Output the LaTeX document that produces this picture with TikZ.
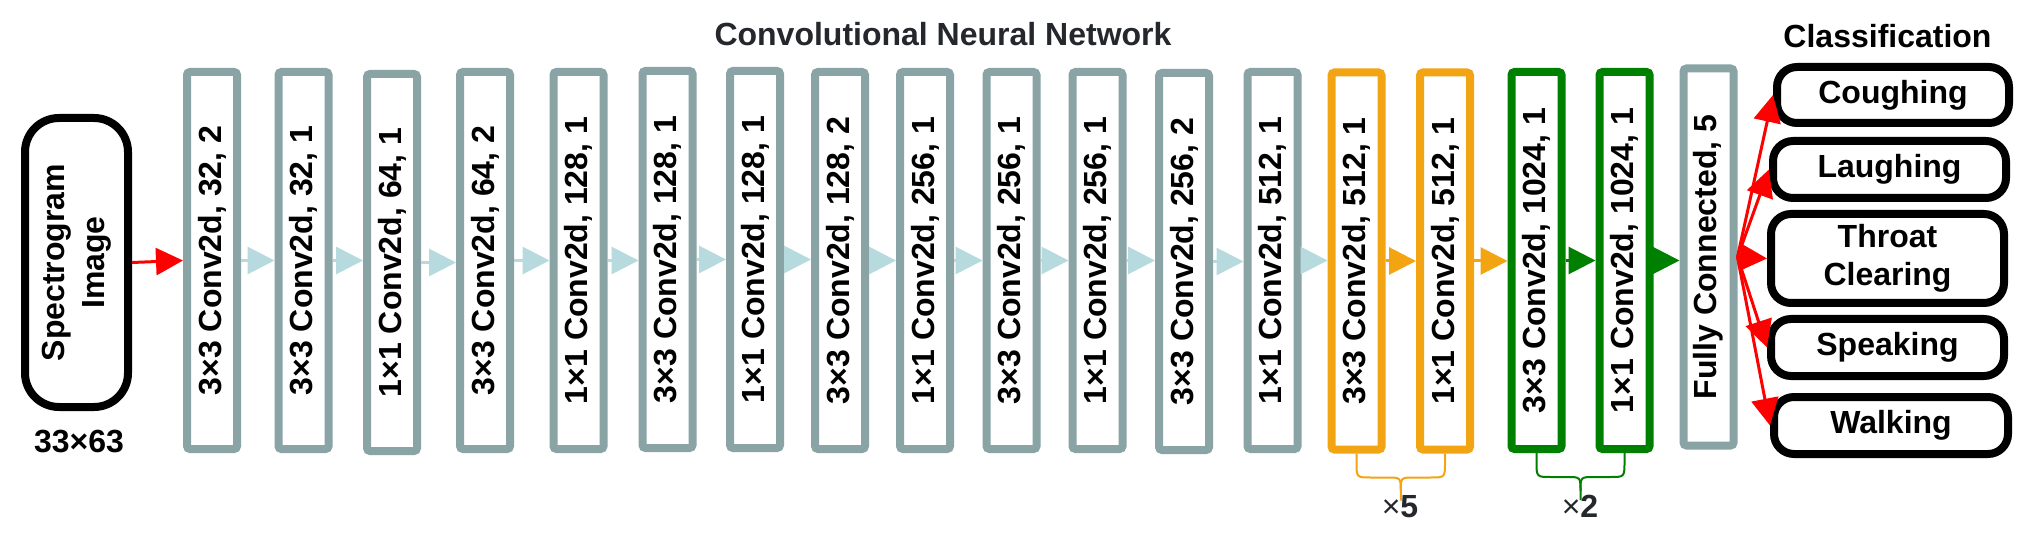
\documentclass[tikz,border=0pt]{standalone}
\usepackage{fontspec}
\setmainfont{Liberation Sans}
\usetikzlibrary{arrows.meta,calc}
\definecolor{grayC}{RGB}{138,164,166}
\definecolor{lblueC}{RGB}{182,218,222}
\definecolor{orangeC}{RGB}{242,164,19}
\definecolor{greenC}{RGB}{0,128,0}
\definecolor{darkC}{RGB}{36,39,43}
\begin{document}
\begin{tikzpicture}[x=0.5pt,y=-0.5pt,
  every node/.style={font=\fontsize{16}{19}\selectfont\bfseries},
  conv/.style={draw=grayC, line width=4pt, rounded corners=1.5pt, minimum width=25pt, minimum height=188.5pt, inner sep=0pt, fill=white},
  convo/.style={conv, draw=orangeC},
  convg/.style={conv, draw=greenC},
  specbox/.style={draw=black, line width=4pt, rounded corners=17pt, minimum width=51.5pt, minimum height=144.5pt, inner sep=0pt},
  cls/.style={draw=black, line width=4pt, rounded corners=10pt, minimum width=116.5pt, minimum height=28.5pt, inner sep=0pt, align=center},
  tipT/.style={-{Triangle[length=13.5pt,width=13.5pt]}},
  lbarrow/.style={tipT, draw=lblueC, fill=lblueC, line width=1.5pt},
  oarrow/.style={tipT, draw=orangeC, fill=orangeC, line width=1.5pt},
  garrow/.style={tipT, draw=greenC, fill=greenC, line width=1.5pt},
  rarrow/.style={tipT, draw=red, fill=red, line width=1.5pt},
  bracelineo/.style={draw=orangeC, line width=1pt},
  bracelineg/.style={draw=greenC, line width=1pt},
  multlabel/.style={text=darkC, anchor=base, font=\fontsize{16}{19}\selectfont}
]
\fill[white] (0,0) rectangle (2030,545);
\useasboundingbox (0,0) rectangle (2030,545);

% titles
\node[text=darkC, anchor=base] (title) at (943,46) {Convolutional Neural Network};
\node[anchor=base] (ctitle) at (1887.5,48) {Classification};

% input
\node[specbox] (spec) at (76.5,262.5) {\fontsize{16}{20}\selectfont\rotatebox{90}{\begin{tabular}{@{}c@{}}Spectrogram\\Image\end{tabular}}};
\node[anchor=base] (size) at (79,452) {33×63};

% conv layers
\node[conv] (b1) at (212,260.5) {\rotatebox{90}{3×3 Conv2d, 32, 2}};
\node[conv] (b2) at (303.5,260.5) {\rotatebox{90}{3×3 Conv2d, 32, 1}};
\node[conv] (b3) at (392,262.5) {\rotatebox{90}{1×1 Conv2d, 64, 1}};
\node[conv] (b4) at (485,260.5) {\rotatebox{90}{3×3 Conv2d, 64, 2}};
\node[conv] (b5) at (578.5,260.5) {\rotatebox{90}{1×1 Conv2d, 128, 1}};
\node[conv] (b6) at (667.5,259.5) {\rotatebox{90}{3×3 Conv2d, 128, 1}};
\node[conv] (b7) at (755,259.5) {\rotatebox{90}{1×1 Conv2d, 128, 1}};
\node[conv] (b8) at (840,260.5) {\rotatebox{90}{3×3 Conv2d, 128, 2}};
\node[conv] (b9) at (925,260.5) {\rotatebox{90}{1×1 Conv2d, 256, 1}};
\node[conv] (b10) at (1011.5,260.5) {\rotatebox{90}{3×3 Conv2d, 256, 1}};
\node[conv] (b11) at (1097.5,260.5) {\rotatebox{90}{1×1 Conv2d, 256, 1}};
\node[conv] (b12) at (1184,261.5) {\rotatebox{90}{3×3 Conv2d, 256, 2}};
\node[conv] (b13) at (1272.5,260.5) {\rotatebox{90}{1×1 Conv2d, 512, 1}};
\node[convo] (o1) at (1356.5,261) {\rotatebox{90}{3×3 Conv2d, 512, 1}};
\node[convo] (o2) at (1445,261) {\rotatebox{90}{1×1 Conv2d, 512, 1}};
\node[convg] (g1) at (1536.5,260.5) {\rotatebox{90}{3×3 Conv2d, 1024, 1}};
\node[convg] (g2) at (1624.5,260.5) {\rotatebox{90}{1×1 Conv2d, 1024, 1}};
\node[conv] (fc) at (1708.5,257) {\rotatebox{90}{Fully Connected, 5}};

% classes
\node[cls, minimum width=116pt, minimum height=28pt] (c1) at (1893,95) {Coughing};
\node[cls] (c2) at (1889.5,169.5) {Laughing};
\node[cls, minimum height=44.5pt] (c3) at (1887.5,258.5) {Throat\\Clearing};
\node[cls] (c4) at (1887.5,347.5) {Speaking};
\node[cls, minimum width=117pt] (c5) at (1891,425.5) {Walking};

% connectors
\draw[rarrow] (spec.east) -- (b1.west);
\foreach \a/\b in {b1/b2,b2/b3,b3/b4,b4/b5,b5/b6,b6/b7,b7/b8,b8/b9,b9/b10,b10/b11,b11/b12,b12/b13,b13/o1}
  \draw[lbarrow] (\a.east) -- (\a.east -| \b.west);
\draw[oarrow] (o1.east) -- (o1.east -| o2.west);
\draw[oarrow] (o2.east) -- (o2.east -| g1.west);
\draw[garrow] (g1.east) -- (g1.east -| g2.west);
\draw[garrow] (g2.east) -- (g2.east -| fc.west);
\foreach \c in {c1,c2,c3,c4,c5}
  \draw[rarrow] (fc.east) -- (\c.west);

% braces
\coordinate (om) at ($(o1.south)!0.5!(o2.south)+(0,47)$);
\draw[bracelineo] (o1.south) -- ++(0,8) .. controls +(0,16) and +(-14,0) .. ($(o1.south)+(14,24)$)
  -- ($(om)+(-14,-23)$) .. controls +(14,0) and +(0,-14) .. ($(om)+(0,-9)$) -- (om);
\draw[bracelineo] (o2.south) -- ++(0,8) .. controls +(0,16) and +(14,0) .. ($(o2.south)+(-14,24)$)
  -- ($(om)+(14,-23)$) .. controls +(-14,0) and +(0,-14) .. ($(om)+(0,-9)$);
\coordinate (gm) at ($(g1.south)!0.5!(g2.south)+(0,47)$);
\draw[bracelineg] (g1.south) -- ++(0,8) .. controls +(0,16) and +(-14,0) .. ($(g1.south)+(14,24)$)
  -- ($(gm)+(-14,-23)$) .. controls +(14,0) and +(0,-14) .. ($(gm)+(0,-9)$) -- (gm);
\draw[bracelineg] (g2.south) -- ++(0,8) .. controls +(0,16) and +(14,0) .. ($(g2.south)+(-14,24)$)
  -- ($(gm)+(14,-23)$) .. controls +(-14,0) and +(0,-14) .. ($(gm)+(0,-9)$);
\node[multlabel] (x5) at (1400,517) {×\textbf{5}};
\node[multlabel] (x2) at (1580,517) {×\textbf{2}};
\end{tikzpicture}
\end{document}
